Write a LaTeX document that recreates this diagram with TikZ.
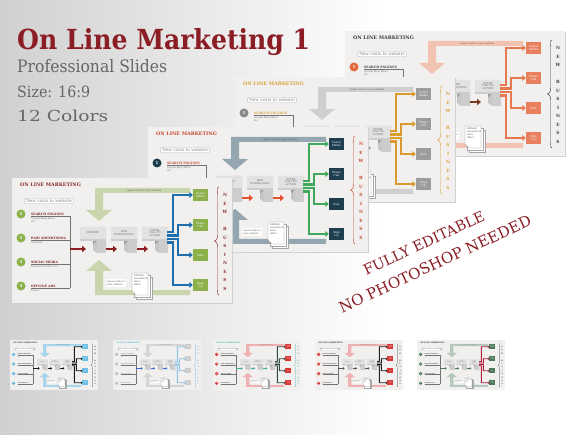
\documentclass[tikz,border=0pt]{standalone}
\usepackage{fontspec}
\setmainfont{DejaVu Serif}
\usetikzlibrary{arrows.meta}

\definecolor{titlered}{HTML}{8B1E24}
\definecolor{subgray}{HTML}{666666}
\definecolor{slidebg}{HTML}{F1F0EE}
\definecolor{boxgray}{HTML}{CDCDCD}
\definecolor{boxlight}{HTML}{E2E2E2}

\pgfdeclarehorizontalshading{pagebg}{100bp}{color(0bp)=(black!30); color(22bp)=(black!20); color(58bp)=(white); color(100bp)=(white)}

\def\slw{1}
\tikzset{
  lw/.code={\def\slw{#1}},
  palette/.code n args={8}{%
    \definecolor{slttl}{HTML}{#1}\definecolor{sldot}{HTML}{#2}%
    \definecolor{slout}{HTML}{#3}\definecolor{slbranch}{HTML}{#4}%
    \definecolor{slchain}{HTML}{#5}\definecolor{slband}{HTML}{#6}%
    \definecolor{slletters}{HTML}{#7}\definecolor{sllabel}{HTML}{#8}},
  slhead/.style={anchor=west, inner sep=0, text=slttl, font=\fontsize{4.8}{5}\selectfont\bfseries},
  bubble/.style={draw=black!30, line width=0.3pt*\slw, rounded corners=2.5pt, fill=white, text=black!50,
    font=\fontsize{4.2}{5}\selectfont, inner xsep=2pt, inner ysep=1.2pt},
  dotnode/.style={circle, fill=sldot, text=white, minimum size=9pt, inner sep=0, font=\fontsize{4}{4}\selectfont\bfseries},
  srclabel/.style={anchor=base west, inner sep=0, text=sllabel, font=\fontsize{3.1}{4}\selectfont\bfseries},
  srcsub/.style={anchor=north west, inner sep=0, text=black!55, font=\fontsize{2.5}{3}\selectfont, align=left},
  boxtext/.style={text=black!60, font=\fontsize{2.5}{2.9}\selectfont, align=center, inner sep=0},
  outbox/.style={fill=slout, text=white, minimum width=15pt, minimum height=12pt, inner sep=0,
    font=\fontsize{2.8}{3.1}\selectfont, align=center},
  bandtext/.style={text=black!65, font=\fontsize{2.4}{3}\selectfont, inner sep=0},
  notebox/.style={fill=white, text=black!65, font=\fontsize{2.4}{2.9}\selectfont, align=left, inner sep=1pt},
  notetext/.style={anchor=north west, text=black!65, font=\fontsize{2.4}{2.9}\selectfont, align=left, inner sep=0.8pt},
  bizletter/.style={text=slletters, font=\fontsize{4.3}{5}\selectfont\bfseries, inner sep=0},
  slline/.style={draw=black!55, line width=0.45pt*\slw},
  chainarr/.style={draw=slchain, line width=2.6pt*\slw, -{Triangle[length=0pt 1.5,width=0pt 2.4]}},
  brancharr/.style={draw=slbranch, line width=2.1pt*\slw, -{Triangle[length=0pt 1.6,width=0pt 2.6]}},
  bigtext/.style={anchor=base west, inner sep=0}
}

% one step of the funnel, lower left corner cut away
\newcommand\procbox[3]{%
  \begin{scope}[shift={(#2,49)}]
    \fill[boxgray] (0,0) -- (26,0) -- (26,26) -- (17,26) -- (17,14) -- (0,14) -- cycle;
    \fill[boxlight] (0,0) rectangle (26,12);
    \fill[black!38] (17,14) -- (13,18) -- (13,14) -- cycle;
    \fill[black!22] (17,26) -- (17,14) -- (13,18) -- (13,23) -- cycle;
    \node[boxtext] (#1) at (13,6) {#3};
  \end{scope}}

% a whole slide, 220 x 125
\newcommand\drawslide{%
  \fill[black!18] (1.2,1.2) rectangle (221.2,126.2);
  \fill[slidebg] (0,0) rectangle (220,125);
  \node[slhead] (head) at (8,6.5) {ON LINE MARKETING};
  \node[bubble] (visits) at (37,23) {New visits to website};
  % repeat visits
  \fill[slband] (178,10) -- (83,10) -- (83,32) -- (74,32) -- (87,43) -- (100,32) -- (91,32) -- (91,15) -- (178,15) -- cycle;
  \node[bandtext] (reptop) at (132,12.5) {repeat visits to your website};
  \fill[slband] (178,117) -- (83,117) -- (83,93) -- (74,93) -- (87,82) -- (100,93) -- (91,93) -- (91,112) -- (178,112) -- cycle;
  \node[notebox] (repbot) at (104,105) {repeat visits to\\your website};
  % sources
  \foreach \t/\s [count=\i] in {SEARCH ENGINES/{Google,Bing,Yahoo\\etc.}, PAID ADVERTISING/Adwords,
      SOCIAL MEDIA/{Facebook,Twitter etc.}, OFFLINE ADS/Flyers}{
    \pgfmathsetmacro\yy{12+24*\i}
    \node[dotnode] (src\i) at (9,\yy) {\i};
    \node[srclabel] (lab\i) at (19,\yy+1.2) {\t};
    \draw[slline] (19,\yy+2.4) -- (58,\yy+2.4);
    \node[srcsub] (srcsub\i) at (19,\yy+3.6) {\s};
  }
  \draw[slline] (58,38.4) -- (58,110.4);
  % funnel
  \procbox{web}{68}{WEBSITE}
  \procbox{inter}{99}{WEB\\INTERACTION}
  \procbox{offer}{130}{OFFER\\CALL TO\\ACTION}
  \draw[chainarr] (58,71) -- (74,71);
  \draw[chainarr] (94,71) -- (105,71);
  \draw[chainarr] (125,71) -- (136,71);
  % results
  \node[outbox] (soc) at (188.5,17) {Social\\Media};
  \node[outbox] (call) at (188.5,47) {Phone\\Call};
  \node[outbox] (sale) at (188.5,77) {Sale};
  \node[outbox] (sign) at (188.5,107) {Sign\\Up};
  \draw[brancharr] (155,54) -- (161,54) -- (161,17) -- (soc.west);
  \draw[brancharr] (155,57.5) -- (166,57.5) -- (166,47) -- (call.west);
  \draw[brancharr] (155,61) -- (166,61) -- (166,77) -- (sale.west);
  \draw[brancharr] (155,64.5) -- (161,64.5) -- (161,107) -- (sign.west);
  % emails
  \filldraw[fill=white, draw=black!35, line width=0.3pt*\slw] (124,99) rectangle (140,121);
  \filldraw[fill=white, draw=black!35, line width=0.3pt*\slw] (122,97) rectangle (138,119);
  \filldraw[fill=white, draw=black!45, line width=0.3pt*\slw] (120,95) -- (136,95) -- (136,117) -- (124,117) -- (120,113) -- cycle;
  \node[notetext] (mail) at (121,96) {EMAILS\\newsletters\\sales\\offers};
  % new business
  \draw[draw=slletters, line width=0.45pt*\slw] (207,9) .. controls (205,9) and (205.5,12) .. (205.5,18) -- (205.5,57)
     .. controls (205.5,61) and (204.5,63) .. (202.5,63) .. controls (204.5,63) and (205.5,65) .. (205.5,69)
     -- (205.5,110) .. controls (205.5,115) and (205,117) .. (207,117);
  \foreach \l/\k in {N/0,E/1,W/2,B/4,U/5,S/6,I/7,N/8,E/9,S/10,S/11}
    \node[bizletter] at (213,17+8.5*\k) {\l};
}

\begin{document}
\begin{tikzpicture}[x=1pt,y=-1pt]
\useasboundingbox (0,0) rectangle (580,435);
\shade[shading=pagebg] (0,0) rectangle (580,435);

% stacked slides, back to front
\begin{scope}[shift={(345,31)}, palette={3C3C3C}{E2683F}{E8805E}{E8784E}{7A3A28}{F2C3B0}{3C3C3C}{3C3C3C}]
  \drawslide
\end{scope}
\begin{scope}[shift={(235,77)}, palette={D9A23A}{8A8A8A}{9C9C9C}{D99A2E}{8A8A8A}{CFCFCF}{D9A23A}{D9A23A}]
  \drawslide
\end{scope}
\begin{scope}[shift={(148,127)}, palette={C8452C}{1E3D4F}{1E3D4F}{3FA85A}{E5512C}{94A7B0}{C8452C}{C8452C}]
  \drawslide
\end{scope}
\begin{scope}[shift={(12,178)}, palette={8B2A2A}{8CB04A}{8CB04A}{1F6FAE}{8B1E1E}{C9D5AC}{8B2A2A}{7A2222}]
  \drawslide
\end{scope}

% colour thumbnails
\begin{scope}[shift={(10,340)}, scale=0.4, transform shape, lw=0.4, palette={333333}{5AB4E0}{6CC0E8}{1A1A1A}{1A1A1A}{A8D4EC}{333333}{333333}]
  \drawslide
\end{scope}
\begin{scope}[shift={(113,340)}, scale=0.4, transform shape, lw=0.4, palette={5AB4E0}{BBBBBB}{CCCCCC}{8EC3E6}{3A6FD0}{D5D5D5}{5AB4E0}{888888}]
  \drawslide
\end{scope}
\begin{scope}[shift={(213,340)}, scale=0.4, transform shape, lw=0.4, palette={3AB0B0}{D83A3A}{D83A3A}{2E4A45}{3AB0A0}{EEB0B0}{3AB0B0}{333333}]
  \drawslide
\end{scope}
\begin{scope}[shift={(315,340)}, scale=0.4, transform shape, lw=0.4, palette={333333}{D83A3A}{D83A3A}{222222}{555555}{EEB0B0}{333333}{333333}]
  \drawslide
\end{scope}
\begin{scope}[shift={(417,340)}, scale=0.4, transform shape, lw=0.4, palette={333333}{4C7A5C}{4C7A5C}{B0203A}{4C7A5C}{B5C8BD}{333333}{333333}]
  \drawslide
\end{scope}

% headline
\node[bigtext, text=titlered] (title) at (17,50) {\resizebox{293pt}{21pt}{\bfseries On Line Marketing 1}};
\node[bigtext, text=subgray] (subtitle) at (17,73) {\resizebox{150pt}{13pt}{Professional Slides}};
\node[bigtext, text=subgray] (sizeinfo) at (17,97.5) {\resizebox{73pt}{11.5pt}{Size: 16:9}};
\node[bigtext, text=subgray] (colorinfo) at (17,122) {\resizebox{91pt}{11.5pt}{12 Colors}};

\node[rotate=25, text=titlered, inner sep=0] (editable) at (424,243) {\resizebox{132pt}{!}{FULLY EDITABLE}};
\node[rotate=25, text=titlered, inner sep=0] (nophoto) at (435,264) {\resizebox{210pt}{!}{NO PHOTOSHOP NEEDED}};
\end{tikzpicture}
\end{document}
